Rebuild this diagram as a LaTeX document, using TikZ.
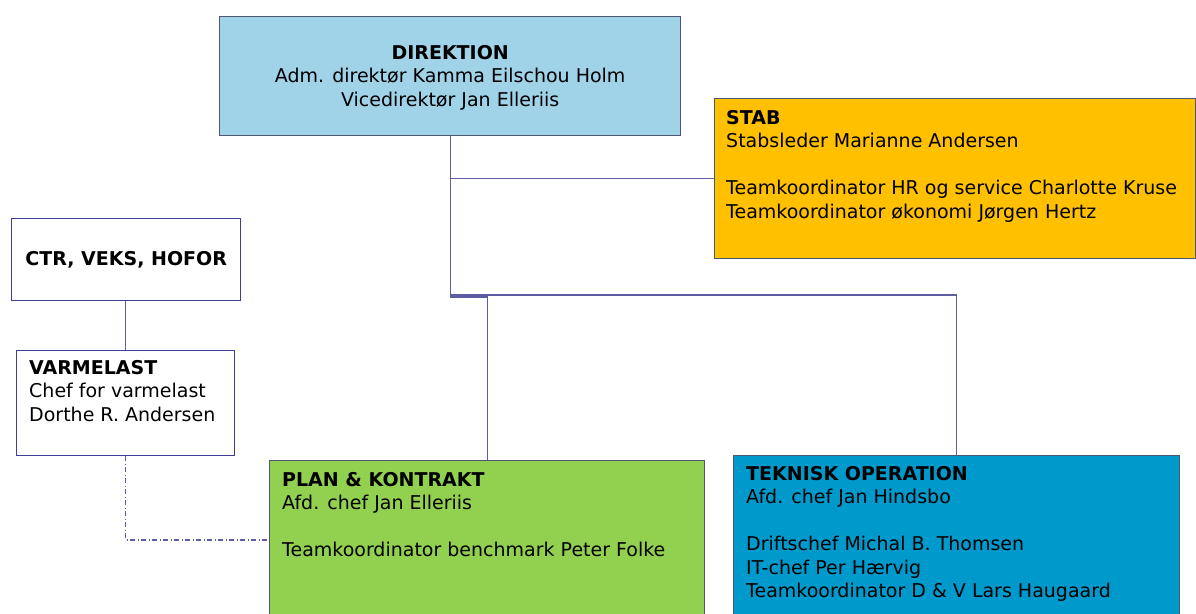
\documentclass[tikz,border=0pt]{standalone}
\usepackage{fontspec}
\setmainfont{DejaVu Sans}
\usepackage{tikz}
\usetikzlibrary{calc}

\definecolor{dir_blue}{HTML}{A0D2E8}
\definecolor{stab_orange}{HTML}{FFC000}
\definecolor{plan_green}{HTML}{92D050}
\definecolor{tek_blue}{HTML}{0099CC}
\definecolor{box_border}{HTML}{4E5670}
\definecolor{plain_border}{HTML}{3F3C96}
\definecolor{line_blue}{HTML}{5F5CA6}

\begin{document}
\begin{tikzpicture}[x=1pt, y=-1pt,
        box_style/.style={draw=box_border, line width=1.4pt, anchor=north west, inner sep=0pt},
        plain_box_style/.style={draw=plain_border, fill=white, line width=1.4pt, anchor=north west, inner sep=0pt, font=\fontsize{19}{23.5}\selectfont\bfseries},
        text_style/.style={anchor=north west, align=left, inner sep=0pt, font=\fontsize{19}{23.5}\selectfont},
        edge_style/.style={draw=line_blue, line width=1.4pt},
        link_style/.style={draw=line_blue, line width=1.4pt, dash pattern=on 5pt off 2.5pt on 1pt off 2.5pt}]

        \useasboundingbox (0,0) rectangle (1196,613);

        \node [box_style, fill=dir_blue, minimum width=461pt, minimum height=119pt](dir) at (219,16) {};

        \node [text_style, align=center, anchor=north](dir_text) at ([yshift=-29pt]dir.north) {\textbf{DIREKTION}\\Adm. direktør Kamma Eilschou Holm\\Vicedirektør Jan Elleriis};

        \node [box_style, fill=stab_orange, minimum width=481pt, minimum height=160pt](stab) at (714,98) {};

        \node [text_style](stab_text) at ([shift={(12pt,-12pt)}]stab.north west) {\textbf{STAB}\\Stabsleder Marianne Andersen\\[23.5pt]Teamkoordinator HR og service Charlotte Kruse\\Teamkoordinator økonomi Jørgen Hertz};

        \node [plain_box_style, minimum width=229pt, minimum height=82pt](ctr) at (11,218) {CTR, VEKS, HOFOR};

        \node [plain_box_style, minimum width=218pt, minimum height=105pt](varm) at (16,350) {};

        \node [text_style](varm_text) at ([shift={(13pt,-10pt)}]varm.north west) {\textbf{VARMELAST}\\Chef for varmelast\\Dorthe R. Andersen};

        \node [box_style, fill=plan_green, minimum width=435pt, minimum height=170pt](plan) at (269,460) {};

        \node [text_style](plan_text) at ([shift={(13pt,-12pt)}]plan.north west) {\textbf{PLAN \& KONTRAKT}\\Afd. chef Jan Elleriis\\[23.5pt]Teamkoordinator benchmark Peter Folke};

        \node [box_style, fill=tek_blue, minimum width=446pt, minimum height=175pt](tek) at (733,455) {};

        \node [text_style](tek_text) at ([shift={(13pt,-11pt)}]tek.north west) {\textbf{TEKNISK OPERATION}\\Afd. chef Jan Hindsbo\\[23.5pt]Driftschef Michal B. Thomsen\\IT-chef Per Hærvig\\Teamkoordinator D \& V Lars Haugaard};

        \coordinate (split_tek) at (dir.south |- 0,295);

        \coordinate (split_plan) at (dir.south |- 0,297);

        \draw [edge_style] (dir.south) -- (split_plan);

        \draw [edge_style] (dir.south |- stab.west) -- (stab.west);

        \draw [edge_style] (split_tek) -| (tek.north);

        \draw [edge_style] (split_plan) -| (plan.north);

        \draw [edge_style] (varm.north) -- (varm.north |- ctr.south);

        \draw [link_style] (varm.south) |- ([yshift=-80pt]plan.north west);

        \end{tikzpicture}
\end{document}
